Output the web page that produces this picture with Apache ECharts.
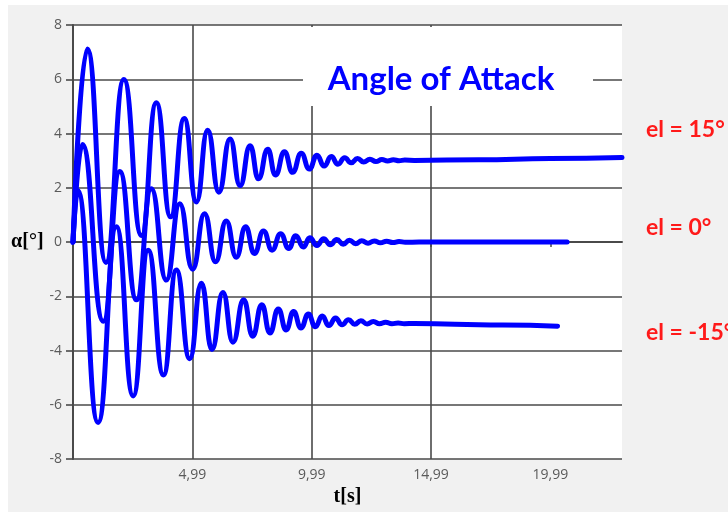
<!DOCTYPE html>
<html>
<head>
<meta charset="utf-8">
<script src="https://cdn.jsdelivr.net/npm/echarts@6/dist/echarts.min.js"></script>
<style>
  html, body { margin: 0; padding: 0; background: #fff; }
  #bg { position: absolute; left: 8px; top: 5px; right: 0; bottom: 0; width: 720px; height: 507px; background: #f1f1f1; }
  #chart { position: absolute; left: 0; top: 0; width: 728px; height: 512px; }
</style>
</head>
<body>
<div id="bg"></div>
<div id="chart"></div>
<script>
// extrema of alpha(t), el = 15 deg
var timeHigh = [0, 0.6, 1.38, 2.13, 2.87, 3.49, 4.09, 4.66, 5.17, 5.64, 6.11, 6.58, 7.0, 7.42, 7.77, 8.16, 8.48, 8.86, 9.2, 9.56, 9.9,
  10.22, 10.52, 10.82, 11.1, 11.38, 11.65, 11.92, 12.18, 12.44, 12.69, 12.94, 13.18, 13.42, 13.66, 13.9, 14.3, 17, 20, 23];
var alphaHigh = [0, 7.12, -0.75, 5.99, 0.24, 5.13, 0.93, 4.55, 1.48, 4.12, 1.84, 3.8, 2.08, 3.55, 2.33, 3.42, 2.47, 3.33, 2.57, 3.27, 2.69,
  3.2, 2.8, 3.15, 2.87, 3.11, 2.92, 3.08, 2.95, 3.05, 2.97, 3.04, 2.99, 3.03, 3.0, 3.02, 3.01, 3.03, 3.08, 3.12];

// el = 0 deg
var timeZero = [0, 0.39, 1.27, 1.96, 2.66, 3.28, 3.91, 4.47, 5.01, 5.51, 5.97, 6.42, 6.84, 7.23, 7.6, 7.98, 8.34, 8.7, 9.04, 9.33, 9.65, 9.92,
  10.22, 10.5, 10.78, 11.05, 11.32, 11.58, 11.84, 12.1, 12.36, 12.62, 12.88, 13.14, 13.4, 13.66, 13.92, 14.5, 20.7];
var alphaZero = [0, 3.6, -2.92, 2.6, -2.13, 1.96, -1.4, 1.41, -1.0, 1.04, -0.73, 0.78, -0.56, 0.56, -0.42, 0.41, -0.3, 0.31, -0.24, 0.23, -0.18, 0.16,
  -0.13, 0.12, -0.1, 0.09, -0.08, 0.07, -0.06, 0.05, -0.04, 0.04, -0.03, 0.03, -0.02, 0.02, -0.01, 0, 0];

// el = -15 deg
var timeLow = [0, 0.2, 1.05, 1.82, 2.52, 3.15, 3.79, 4.33, 4.89, 5.38, 5.82, 6.28, 6.7, 7.15, 7.53, 7.91, 8.25, 8.6, 8.93, 9.24, 9.55, 9.86,
  10.15, 10.44, 10.72, 11.0, 11.27, 11.54, 11.8, 12.06, 12.32, 12.58, 12.84, 13.1, 13.36, 13.62, 13.88, 14.3, 16, 18, 20.3];
var alphaLow = [0, 1.9, -6.65, 0.56, -5.67, -0.3, -4.9, -1.03, -4.3, -1.52, -3.96, -1.86, -3.69, -2.13, -3.47, -2.31, -3.35, -2.47, -3.24, -2.56, -3.17, -2.65,
  -3.12, -2.73, -3.08, -2.8, -3.05, -2.86, -3.03, -2.9, -3.02, -2.93, -3.01, -2.96, -3.01, -2.98, -3.01, -3.0, -3.03, -3.06, -3.1];

var xTickValues = [5, 10, 15, 20];
var xTickLabels = ['4,99', '9,99', '14,99', '19,99'];
var elevatorLabels = ['el = 15°', 'el = 0°', 'el = -15°'];
var chartTitle = 'Angle of Attack';

function zip(ts, vs) {
  return ts.map(function (t, i) { return [t, vs[i]]; });
}

var gridColor = '#4a4a4a';
var curveColor = '#0000ff';

function curve(name, ts, vs) {
  return {
    name: name,
    type: 'line',
    data: zip(ts, vs),
    showSymbol: false,
    smooth: 0.5,
    smoothMonotone: 'x',
    lineStyle: { color: curveColor, width: 5, cap: 'round', join: 'round' },
    itemStyle: { color: curveColor },
    silent: true,
    z: 3
  };
}

var chart = echarts.init(document.getElementById('chart'));

chart.setOption({
  backgroundColor: 'transparent',
  animation: false,
  grid: {
    left: 73, right: 106, top: 25, bottom: 50,
    show: true, backgroundColor: '#fff', borderWidth: 0
  },
  xAxis: {
    type: 'value',
    min: 0, max: 23, interval: 5,
    name: 't[s]',
    nameLocation: 'middle',
    nameGap: 35,
    nameTextStyle: { fontFamily: 'Liberation Serif', fontWeight: 'bold', fontSize: 20, color: '#000', verticalAlign: 'middle' },
    axisLine: { show: true, lineStyle: { color: gridColor, width: 2 } },
    axisTick: { show: true, length: 5, customValues: [0].concat(xTickValues), lineStyle: { color: gridColor, width: 1.5 } },
    axisLabel: {
      customValues: xTickValues,
      margin: 9,
      color: '#5a5a5a', fontSize: 14, fontFamily: 'Open Sans',
      formatter: function (v) { return xTickLabels[xTickValues.indexOf(v)]; }
    },
    splitLine: { show: true, showMinLine: false, showMaxLine: false, lineStyle: { color: gridColor, width: 1.6 } }
  },
  yAxis: {
    type: 'value',
    min: -8, max: 8, interval: 2,
    name: 'α[°]',
    nameLocation: 'middle',
    nameRotate: 0,
    nameGap: 25,
    nameTextStyle: { fontFamily: 'Liberation Serif', fontWeight: 'bold', fontSize: 20, color: '#000', align: 'right', verticalAlign: 'middle' },
    axisLine: { show: true, lineStyle: { color: gridColor, width: 2 } },
    axisTick: { show: true, length: 7, lineStyle: { color: gridColor, width: 1.6 } },
    axisLabel: { margin: 11, color: '#5a5a5a', fontSize: 14, fontFamily: 'Open Sans' },
    splitLine: { show: true, lineStyle: { color: gridColor, width: 1.6 } }
  },
  graphic: [
    { type: 'rect', z: 10, shape: { x: 303, y: 27, width: 290, height: 79 }, style: { fill: '#fff' }, silent: true },
    { type: 'text', z: 11, x: 441, y: 79, style: { text: chartTitle, fill: '#0000ff', font: 'bold 33px Lato', textAlign: 'center', textVerticalAlign: 'middle' } },
    { type: 'text', z: 11, x: 646, y: 130, style: { text: elevatorLabels[0], fill: '#ff1a1a', font: 'bold 23px Lato', textVerticalAlign: 'middle' } },
    { type: 'text', z: 11, x: 646, y: 228, style: { text: elevatorLabels[1], fill: '#ff1a1a', font: 'bold 23px Lato', textVerticalAlign: 'middle' } },
    { type: 'text', z: 11, x: 646, y: 333, style: { text: elevatorLabels[2], fill: '#ff1a1a', font: 'bold 23px Lato', textVerticalAlign: 'middle' } }
  ],
  series: [
    curve(elevatorLabels[0], timeHigh, alphaHigh),
    curve(elevatorLabels[1], timeZero, alphaZero),
    curve(elevatorLabels[2], timeLow, alphaLow)
  ]
});
</script>
</body>
</html>
